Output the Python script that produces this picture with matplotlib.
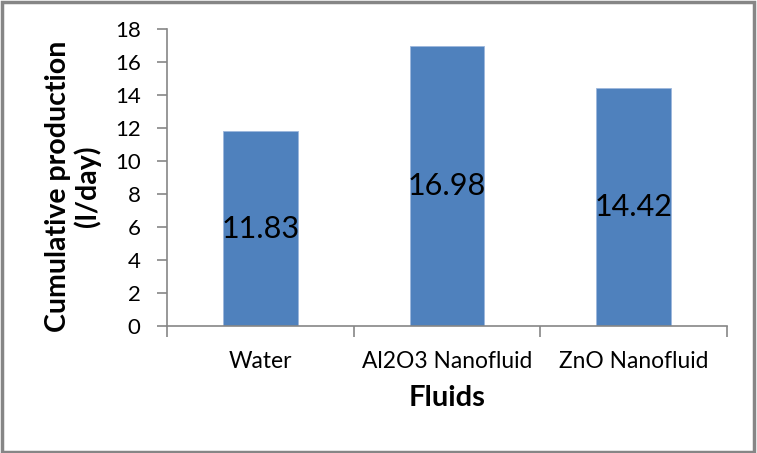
import matplotlib
matplotlib.use("Agg")
import matplotlib.pyplot as plt
from matplotlib.patches import Rectangle

categories = ["Water", "Al2O3 Nanofluid", "ZnO Nanofluid"]
values = [11.83, 16.98, 14.42]
labels = ["11.83", "16.98", "14.42"]
yticks = [0, 2, 4, 6, 8, 10, 12, 14, 16, 18]

plt.rcParams['font.family'] = ['Lato', 'DejaVu Sans']

fig = plt.figure(figsize=(7.57, 4.53), dpi=100)
ax = fig.add_axes([167/757, 1-326/453, (727-167)/757, (326-29.3)/453])

x = list(range(len(categories)))
bars = ax.bar(x, values, width=0.4, color="#4F81BD", edgecolor="#9DB7DC", linewidth=0.6, zorder=2)
for xi, v, lab in zip(x, values, labels):
    ax.text(xi, v/2, lab, ha="center", va="center", fontsize=22, color="black", zorder=3)

ax.set_xlim(-0.5, len(categories)-0.5)
ax.set_ylim(0, 18)
ax.set_yticks(yticks)
ax.set_yticklabels([str(t) for t in yticks], fontsize=16)
ax.set_xticks(x)
ax.set_xticklabels(categories, fontsize=16.4)
ax.set_xticks([-0.5, 0.5, 1.5, 2.5], minor=True)
ax.tick_params(axis="x", which="major", length=0, pad=18)
ax.tick_params(axis="x", which="minor", length=8, color="#868686", width=1.2, direction="out")
ax.tick_params(axis="y", length=7, color="#868686", width=1.2, direction="out", pad=12)

for s in ["top", "right"]:
    ax.spines[s].set_visible(False)
for s in ["left", "bottom"]:
    ax.spines[s].set_color("#868686")
    ax.spines[s].set_linewidth(1.2)

ax.set_ylabel("Cumulative production\n(l/day)", fontsize=20.5, fontweight="bold", labelpad=8, linespacing=1.15)
ax.yaxis.set_label_coords(-94/560, 0.47)
ax.set_xlabel("Fluids", fontsize=21, fontweight="bold", labelpad=10)
ax.xaxis.set_label_coords(0.5, -(398-326)/296.7)
ax.xaxis.label.set_va("center")
ax.yaxis.label.set_va("center")

fig.patches.append(Rectangle((0.002, 0.003), 0.994, 0.993, transform=fig.transFigure,
                             fill=False, edgecolor="#868686", linewidth=2.5))

fig.savefig("out.png", dpi=100)
